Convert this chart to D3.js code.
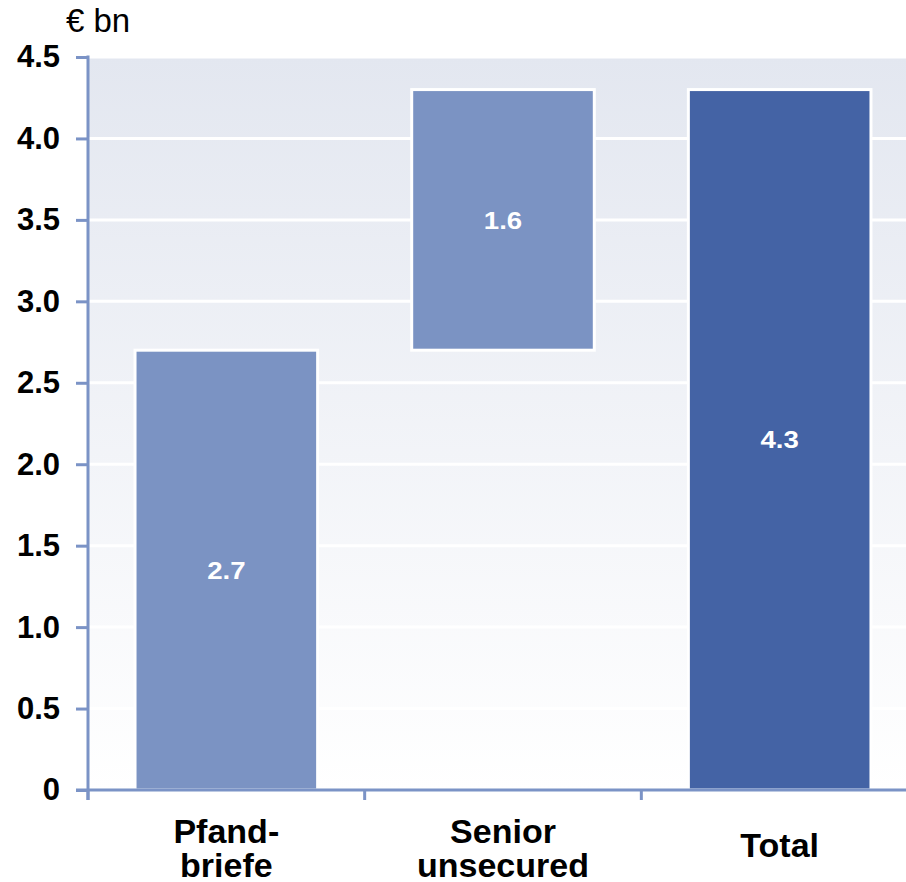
<!DOCTYPE html>
<html>
<head>
<meta charset="utf-8">
<script src="https://cdn.jsdelivr.net/npm/d3@7"></script>
<style>
  html, body { margin: 0; padding: 0; background: #ffffff; }
  svg { display: block; font-family: "Liberation Sans", Arial, Helvetica, sans-serif; }
</style>
</head>
<body>
<svg id="chart" width="906" height="882"></svg>
<script>
// Issuance by instrument, € bn (waterfall: Pfandbriefe + Senior unsecured = Total)
const categories = [["Pfand-", "briefe"], ["Senior", "unsecured"], ["Total"]];
const barBase = [0, 2.7, 0];
const barValue = [2.7, 1.6, 4.3];
const barColor = ["#7b93c3", "#7b93c3", "#4463a5"];
const yTicks = [0, 0.5, 1.0, 1.5, 2.0, 2.5, 3.0, 3.5, 4.0, 4.5];
const yTickLabels = ["0", "0.5", "1.0", "1.5", "2.0", "2.5", "3.0", "3.5", "4.0", "4.5"];
const unitLabel = "€ bn";

const svg = d3.select("#chart");
const margin = { left: 88, top: 57, right: -12, bottom: 92 };
const W = 906, H = 882;
const plotW = W - margin.left - margin.right;
const plotH = H - margin.top - margin.bottom;

const x = d3.scaleBand().domain(d3.range(categories.length)).range([0, plotW]).paddingInner(0.34).paddingOuter(0.17);
const y = d3.scaleLinear().domain([0, 4.5]).range([plotH, 0]);

const defs = svg.append("defs");
const grad = defs.append("linearGradient").attr("id", "bg").attr("x1", 0).attr("y1", 0).attr("x2", 0).attr("y2", 1);
grad.append("stop").attr("offset", "0%").attr("stop-color", "#e3e7f0");
grad.append("stop").attr("offset", "100%").attr("stop-color", "#ffffff");

const g = svg.append("g").attr("transform", `translate(${margin.left},${margin.top})`);

// plot background
g.append("rect").attr("x", 0).attr("y", 0).attr("width", plotW).attr("height", plotH).attr("fill", "url(#bg)");

// horizontal gridlines
g.selectAll("line.grid").data(yTicks.slice(1)).join("line")
  .attr("class", "grid")
  .attr("x1", 0).attr("x2", plotW)
  .attr("y1", d => y(d)).attr("y2", d => y(d))
  .attr("stroke", "#ffffff").attr("stroke-width", 3);

// bars
g.selectAll("rect.bar").data(barValue).join("rect")
  .attr("class", "bar")
  .attr("x", (d, i) => x(i))
  .attr("width", x.bandwidth())
  .attr("y", (d, i) => y(barBase[i] + d))
  .attr("height", (d, i) => y(barBase[i]) - y(barBase[i] + d))
  .attr("fill", (d, i) => barColor[i])
  .attr("stroke", "#ffffff").attr("stroke-width", 3);

// value labels inside the bars
g.selectAll("g.val").data(barValue).join("g")
  .attr("class", "val")
  .attr("transform", (d, i) => `translate(${x(i) + x.bandwidth() / 2},${y(barBase[i] + d / 2)}) scale(1.15,1)`)
  .append("text")
  .attr("text-anchor", "middle").attr("dy", "0.36em")
  .attr("font-size", 24).attr("font-weight", "bold").attr("fill", "#ffffff")
  .text(d => d.toFixed(1));

const axisColor = "#7b93c6";

// y axis
const yAxis = g.append("g").call(
  d3.axisLeft(y).tickValues(yTicks).tickFormat((d, i) => yTickLabels[i]).tickSizeInner(12).tickSizeOuter(0).tickPadding(16)
);
yAxis.select(".domain").remove();
yAxis.selectAll(".tick line").attr("stroke", axisColor).attr("stroke-width", 3);
yAxis.selectAll(".tick text").attr("font-size", 31).attr("font-weight", "bold").attr("fill", "#000000")
  .attr("font-family", "'Liberation Sans', Arial, sans-serif");
g.append("line").attr("x1", 0).attr("x2", 0).attr("y1", -1.5).attr("y2", plotH + 10)
  .attr("stroke", axisColor).attr("stroke-width", 3);

// x axis baseline and category separators
g.append("line").attr("x1", -12).attr("x2", plotW).attr("y1", plotH).attr("y2", plotH)
  .attr("stroke", axisColor).attr("stroke-width", 3);
const half = x.paddingInner() * x.step() / 2;
g.selectAll("line.xtick").data(d3.range(categories.length)).join("line")
  .attr("class", "xtick")
  .attr("x1", i => x(i) - half).attr("x2", i => x(i) - half)
  .attr("y1", plotH).attr("y2", plotH + 10)
  .attr("stroke", axisColor).attr("stroke-width", 3);

// category labels
const catG = g.selectAll("text.cat").data(categories).join("text")
  .attr("class", "cat")
  .attr("text-anchor", "middle")
  .attr("font-size", 34).attr("font-weight", "bold").attr("fill", "#000000")
  .attr("x", (d, i) => x(i) + x.bandwidth() / 2)
  .attr("y", d => d.length > 1 ? plotH + 53 : plotH + 67);
catG.selectAll("tspan").data(d => d).join("tspan")
  .attr("x", function () { return d3.select(this.parentNode).attr("x"); })
  .attr("dy", (d, i) => i === 0 ? 0 : 34)
  .text(d => d);

// unit label
svg.append("text").attr("x", 66).attr("y", 32)
  .attr("font-size", 33).attr("fill", "#000000").text(unitLabel);
</script>
</body>
</html>
